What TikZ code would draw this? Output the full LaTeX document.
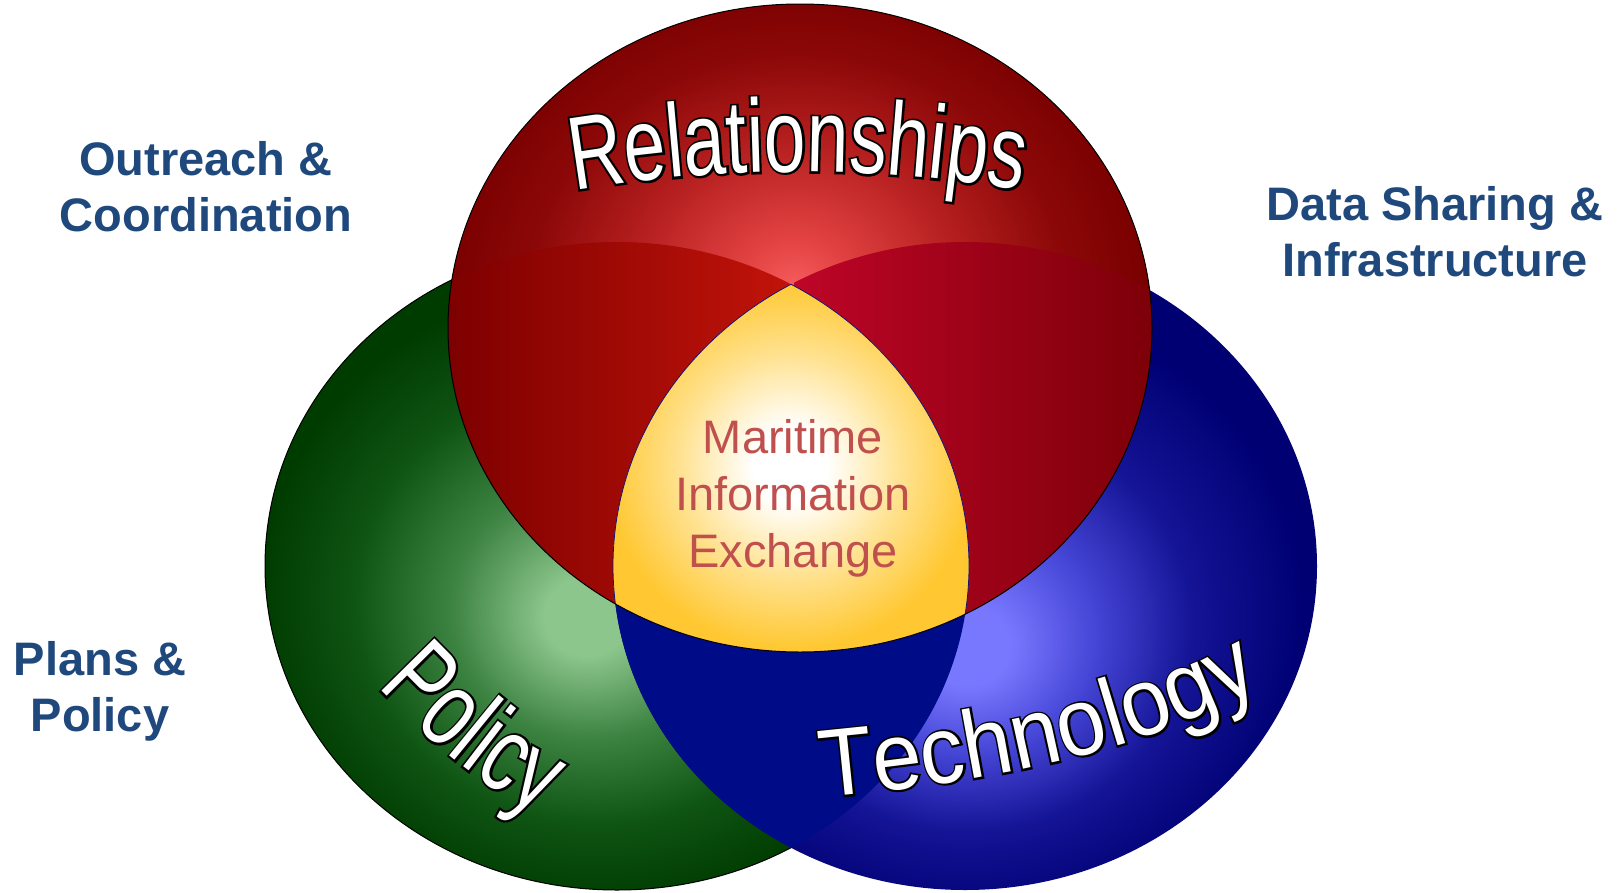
\documentclass[tikz,border=0pt]{standalone}
\usepackage{fontspec}
\setmainfont{Liberation Sans}
\newfontfamily\arcfont[FakeStretch=0.72]{Liberation Sans}
\newfontfamily\arcrim[FakeStretch=0.72,FakeBold=4]{Liberation Sans}
\newfontfamily\techfont[FakeStretch=0.92]{Liberation Sans}
\newfontfamily\techrim[FakeStretch=0.92,FakeBold=4]{Liberation Sans}
\usetikzlibrary{decorations.text}

\definecolor{labelblue}{RGB}{31,73,125}
\definecolor{mixred}{RGB}{192,80,77}
\definecolor{gnlight}{RGB}{140,198,140}
\definecolor{gnmid}{RGB}{60,130,65}
\definecolor{gndeep}{RGB}{15,85,20}
\definecolor{gndark}{RGB}{0,60,0}
\definecolor{bllight}{RGB}{120,120,255}
\definecolor{blmid}{RGB}{70,70,215}
\definecolor{bldeep}{RGB}{20,20,150}
\definecolor{bldark}{RGB}{0,0,115}
\definecolor{rdlight}{RGB}{245,90,90}
\definecolor{rdmid}{RGB}{225,65,65}
\definecolor{rddeep}{RGB}{180,30,30}
\definecolor{rdlow}{RGB}{140,8,8}
\definecolor{rddark}{RGB}{122,0,0}
\definecolor{lobeleft}{RGB}{125,0,0}
\definecolor{lobegreen}{RGB}{195,20,10}
\definecolor{lobeblue}{RGB}{190,5,40}
\definecolor{loberight}{RGB}{125,0,8}
\definecolor{navyover}{RGB}{0,12,135}
\definecolor{glowmid}{RGB}{255,226,145}
\definecolor{glowgold}{RGB}{255,200,50}
\definecolor{hubline}{RGB}{20,20,120}

\pgfdeclareradialshading{greenball}{\pgfpoint{-2.3bp}{-4.2bp}}{color(0bp)=(gnlight); color(3bp)=(gnlight); color(10bp)=(gnmid); color(17bp)=(gndeep); color(24bp)=(gndark); color(50bp)=(gndark)}
\pgfdeclareradialshading{blueball}{\pgfpoint{0.2bp}{-6.6bp}}{color(0bp)=(bllight); color(3bp)=(bllight); color(9bp)=(blmid); color(16bp)=(bldeep); color(24bp)=(bldark); color(50bp)=(bldark)}
\pgfdeclareradialshading{redball}{\pgfpoint{-0.4bp}{3.4bp}}{color(0bp)=(rdlight); color(4bp)=(rdmid); color(12bp)=(rddeep); color(19bp)=(rdlow); color(25bp)=(rddark); color(50bp)=(rddark)}
\pgfdeclareradialshading{hubglow}{\pgfpoint{0bp}{0bp}}{color(0bp)=(white); color(4bp)=(white); color(12bp)=(glowmid); color(20bp)=(glowgold); color(50bp)=(glowgold)}

% black rim under, white letters over
\newcommand{\relrim}{\arcrim\fontsize{104}{110}\selectfont\color{black}}
\newcommand{\relface}{\arcfont\fontsize{104}{110}\selectfont\color{white}}
\newcommand{\polrim}{\arcrim\fontsize{108}{110}\selectfont\color{black}}
\newcommand{\polface}{\arcfont\fontsize{108}{110}\selectfont\color{white}}
\newcommand{\tecrim}{\techrim\fontsize{96}{100}\selectfont\color{black}}
\newcommand{\tecface}{\techfont\fontsize{96}{100}\selectfont\color{white}}

\begin{document}
\begin{tikzpicture}[x=1pt,y=-1pt,
	oval/.style={x radius=352,y radius=324},
	ring/.style={draw=black,line width=1pt},
	arcword/.style={decorate,decoration={text along path,text align=center,text={#1}}},
	sidelabel/.style={align=center,anchor=north,inner sep=0pt,text=labelblue,font=\bfseries\fontsize{47}{56}\selectfont}]

	\fill[white] (0,0) rectangle (1623,892);
	\useasboundingbox (0,0) rectangle (1623,892);

	\coordinate (rc) at (800,328);
	\coordinate (gc) at (617,566);
	\coordinate (bc) at (965,566);

	%green and blue
	\shade[shading=greenball] (gc) ellipse [oval];
	\draw[ring] (gc) ellipse [oval];
	\shade[shading=blueball] (bc) ellipse [oval];
	\begin{scope}
		\clip (gc) ellipse [oval];
		\fill[navyover] (bc) ellipse [oval];
	\end{scope}

	%red with its two lobes
	\shade[shading=redball] (rc) ellipse [oval];
	\begin{scope}
		\clip (rc) ellipse [oval];
		\clip (gc) ellipse [oval];
		\shade[left color=lobeleft,right color=lobegreen] (448,240) rectangle (800,650);
	\end{scope}
	\begin{scope}
		\clip (rc) ellipse [oval];
		\clip (bc) ellipse [oval];
		\shade[left color=lobeblue,right color=loberight] (794,240) rectangle (1152,650);
	\end{scope}

	%middle part
	\begin{scope}
		\clip (rc) ellipse [oval];
		\clip (gc) ellipse [oval];
		\clip (bc) ellipse [oval];
		\shade[shading=hubglow] (790,465) circle [radius=230];
	\end{scope}
	\begin{scope}
		\clip (rc) ellipse [oval];
		\clip (gc) ellipse [oval];
		\draw[hubline,line width=0.8pt] (bc) ellipse [oval];
	\end{scope}
	\begin{scope}
		\clip (rc) ellipse [oval];
		\clip (bc) ellipse [oval];
		\draw[hubline,line width=0.8pt] (gc) ellipse [oval];
	\end{scope}
	\draw[ring] (rc) ellipse [oval];

	\node[align=center,anchor=north,inner sep=0pt,text=mixred,font=\fontsize{47}{57}\selectfont] (hub) at (793,419) {Maritime\\Information\\Exchange};

	%curved words
	\path[arcword={|\relrim|Relationships}] (566,192) .. controls (720,165) and (876,165) .. (1030,192);
	\path[arcword={|\relface|Relationships}] (566,192) .. controls (720,165) and (876,165) .. (1030,192);
	\path[arcword={|\polrim|Policy}] (370,679) .. controls (419,731) and (474,785) .. (549,819);
	\path[arcword={|\polface|Policy}] (370,679) .. controls (419,731) and (474,785) .. (549,819);
	\path[arcword={|\tecrim|Technology}] (818,798) .. controls (950,786) and (1132,761) .. (1266,684);
	\path[arcword={|\tecface|Technology}] (818,798) .. controls (950,786) and (1132,761) .. (1266,684);

	%outside labels
	\node[sidelabel] (outreach) at (206,141) {Outreach \&\\Coordination};
	\node[sidelabel] (datashare) at (1435,186) {Data Sharing \&\\Infrastructure};
	\node[sidelabel] (plans) at (100,641) {Plans \&\\Policy};
\end{tikzpicture}
\end{document}
